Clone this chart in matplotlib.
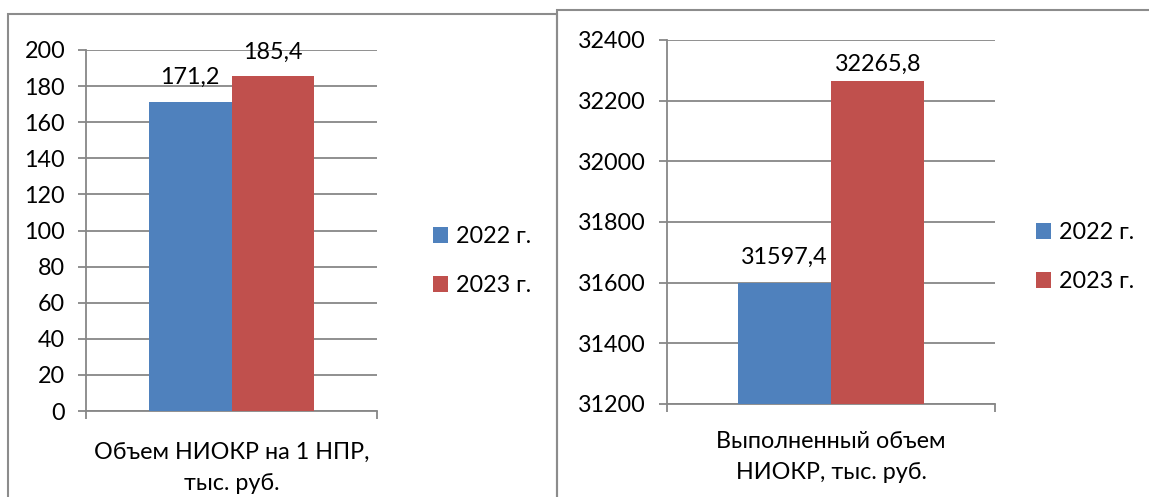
import matplotlib.pyplot as plt
from matplotlib.patches import Rectangle

plt.rcParams["font.family"] = ["Lato", "DejaVu Sans"]

# Data
years = ["2022 г.", "2023 г."]
colors = ["#4F81BD", "#C0504D"]

left_category = "Объем НИОКР на 1 НПР,\nтыс. руб."
left_values = [171.2, 185.4]

right_category = "Выполненный объем\nНИОКР, тыс. руб."
right_values = [31597.4, 32265.8]

W, H = 1149, 497
fig = plt.figure(figsize=(W / 100, H / 100), dpi=100)
grey = "#878787"
fs = 16.8


def px_axes(x0, y0, x1, y1):
    # pixel box (top-left origin) -> figure fraction axes
    return fig.add_axes([x0 / W, 1 - y1 / H, (x1 - x0) / W, (y1 - y0) / H])


def draw_chart(ax, values, category, ymin, ymax, step, label_pads, cat_pad):
    width = 0.285
    for i, (v, c) in enumerate(zip(values, colors)):
        x = (i - 0.5) * width
        ax.bar(x, v - ymin, bottom=ymin, width=width, color=c, label=years[i], zorder=3)
        ax.annotate(f"{v:.1f}".replace(".", ","), (x, v), xytext=(0, label_pads[i] * 0.72),
                    textcoords="offset points", ha="center", va="bottom",
                    fontsize=fs, color="black", zorder=4)
    ax.set_xlim(-0.5, 0.5)
    ax.set_ylim(ymin, ymax)
    ticks = list(range(ymin, ymax + 1, step))
    ax.set_yticks(ticks)
    ax.set_yticklabels([str(t) for t in ticks], fontsize=fs)
    ax.yaxis.grid(True, color=grey, linewidth=1.3, zorder=0)
    ax.set_xticks([-0.5, 0.5])
    ax.set_xticklabels(["", ""])
    ax.tick_params(axis="both", direction="out", length=6, width=1.3, color=grey)
    ax.tick_params(axis="y", pad=9)
    for s in ["top", "right"]:
        ax.spines[s].set_visible(False)
    for s in ["left", "bottom"]:
        ax.spines[s].set_color(grey)
        ax.spines[s].set_linewidth(1.3)
    ax.annotate(category, (0.5, 0), xycoords="axes fraction", xytext=(0, -cat_pad * 0.72),
                textcoords="offset points", ha="center", va="top",
                fontsize=fs, linespacing=1.6)


ax1 = px_axes(86, 50, 377, 411)
draw_chart(ax1, left_values, left_category, 0, 200, 20, [14, 14], 31)

ax2 = px_axes(667, 40, 995, 404)
draw_chart(ax2, right_values, right_category, 31200, 32400, 200, [16, 6], 27)

for ax, (lx, ly) in [(ax1, (433, 226)), (ax2, (1036, 222))]:
    ax.legend(loc="upper left", bbox_to_anchor=(lx / W, 1 - ly / H),
              bbox_transform=fig.transFigure, frameon=False, fontsize=fs,
              handlelength=0.65, handleheight=0.65, handletextpad=0.35,
              labelspacing=1.22, borderaxespad=0, borderpad=0)

# Chart frames
fig.add_artist(Rectangle((8 / W, -0.05), (557 - 8) / W, 1.05 - 14 / H,
                         transform=fig.transFigure, fill=False, edgecolor="#8c8c8c", linewidth=1.5))
fig.add_artist(Rectangle((557 / W, -0.05), 0.6, 1.05 - 10 / H,
                         transform=fig.transFigure, fill=False, edgecolor="#8c8c8c", linewidth=1.5))

plt.savefig("out.png", dpi=100)
